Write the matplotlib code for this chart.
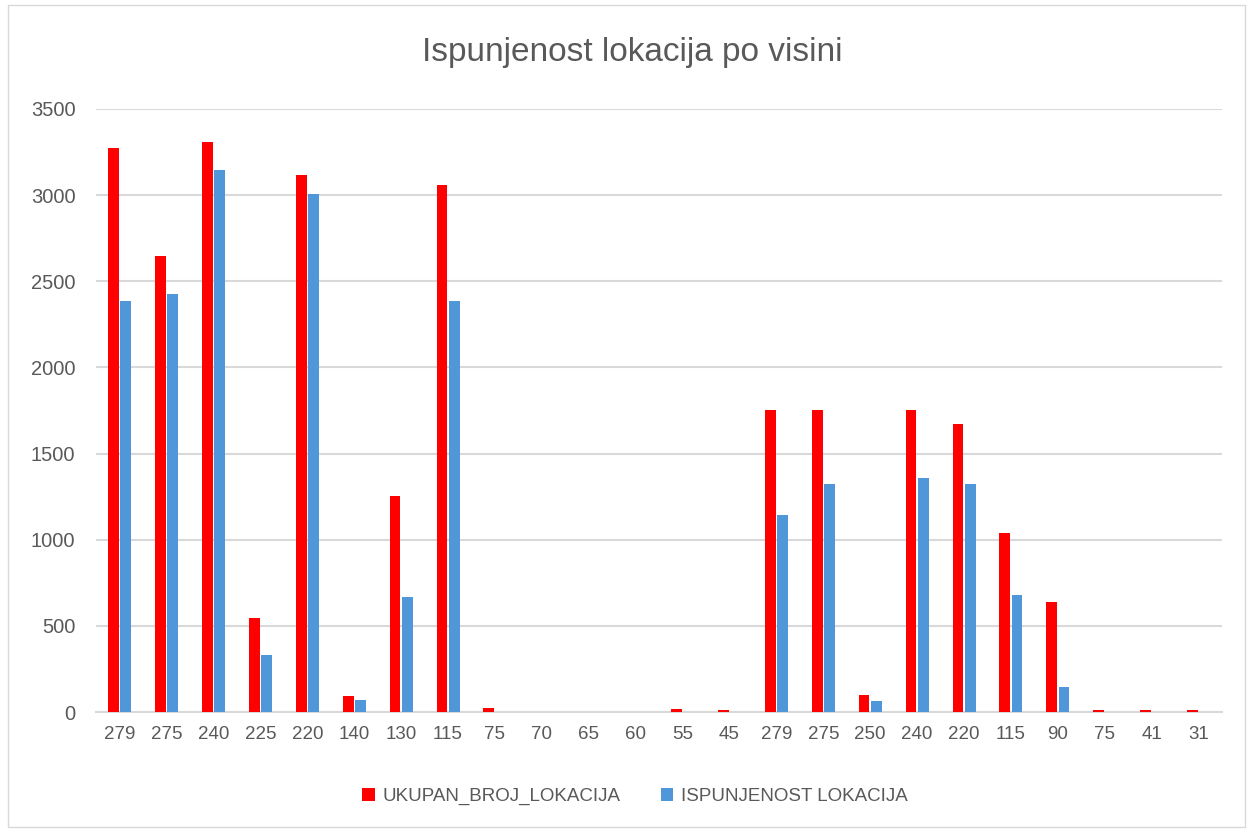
import numpy as np
import matplotlib.pyplot as plt
from matplotlib.patches import Rectangle

# podaci procitani sa grafika
visine = ["279", "275", "240", "225", "220", "140", "130", "115", "75", "70", "65", "60",
          "55", "45", "279", "275", "250", "240", "220", "115", "90", "75", "41", "31"]
ukupno = [3272, 2645, 3308, 546, 3118, 92, 1255, 3058, 22, 0, 0, 0,
          20, 12, 1754, 1754, 100, 1754, 1674, 1042, 641, 12, 12, 12]
ispunjeno = [2387, 2426, 3145, 331, 3008, 68, 668, 2387, 0, 0, 0, 0,
             0, 0, 1145, 1321, 62, 1357, 1321, 682, 145, 0, 0, 0]

siva = "#595959"
plt.rcParams['font.family'] = ['Liberation Sans', 'DejaVu Sans']

fig = plt.figure(figsize=(12.5, 8.3), dpi=100)
ax = fig.add_axes([0.077, 0.142, 0.9006, 0.7267])

x = np.arange(len(visine))
w = 0.23
ax.bar(x - 0.13, ukupno, w, color="#FF0000", label="UKUPAN_BROJ_LOKACIJA", zorder=3)
ax.bar(x + 0.13, ispunjeno, w, color="#5097DA", label="ISPUNJENOST LOKACIJA", zorder=3)

ax.set_xlim(-0.5, len(visine) - 0.5)
ax.set_ylim(0, 3500)
ax.set_yticks(np.arange(0, 3501, 500))
ax.set_xticks(x)
ax.set_xticklabels(visine)
ax.yaxis.grid(True, color="#d9d9d9", linewidth=1.5, zorder=0)
for s in ["top", "right", "left"]:
    ax.spines[s].set_visible(False)
ax.spines["bottom"].set_color("#d9d9d9")
ax.spines["bottom"].set_linewidth(1.5)
ax.tick_params(axis="both", length=0, labelsize=13.5, colors=siva)
ax.tick_params(axis="x", pad=10)
ax.tick_params(axis="y", pad=15, labelsize=14.5)

fig.text(0.506, 0.937, "Ispunjenost lokacija po visini", ha="center", va="center",
         fontsize=24, color=siva)

leg = fig.legend(loc="center", bbox_to_anchor=(0.508, 0.04), ncol=2, frameon=False,
                 fontsize=13.5, handlelength=0.65, handleheight=0.65, columnspacing=2.2,
                 handletextpad=0.4)
for t in leg.get_texts():
    t.set_color(siva)

fig.patches.append(Rectangle((0.006, 0.004), 0.99, 0.99, transform=fig.transFigure,
                             fill=False, edgecolor="#d9d9d9", linewidth=1))

fig.savefig("out.png", dpi=100, facecolor="white")
